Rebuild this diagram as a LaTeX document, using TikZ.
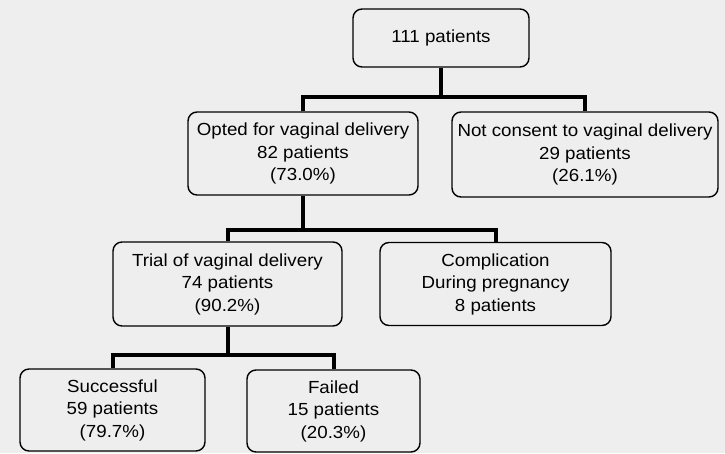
\documentclass[tikz,border=0pt]{standalone}
\usepackage{fontspec}
\setmainfont{Liberation Sans}[FakeStretch=1.07]
\definecolor{bg}{HTML}{EEEEEE}
\begin{document}
\begin{tikzpicture}[x=1pt,y=-1pt,
  box/.style={draw=black, line width=1.4pt, rounded corners=9pt, fill=bg,
    align=center, inner sep=0pt, font=\fontsize{17.5}{22.5}\selectfont},
  conn/.style={line width=4pt, draw=black}]
\fill[bg] (0,0) rectangle (725,453);
\useasboundingbox (0,0) rectangle (725,453);

\node[box, minimum width=176pt, minimum height=58pt] (top) at (441,38) {111 patients};
\node[box, minimum width=230pt, minimum height=83pt] (opted) at (303,153.5)
  {Opted for vaginal delivery\\82 patients\\(73.0\%)};
\node[box, minimum width=266pt, minimum height=85pt] (notc) at (585,154.5)
  {Not consent to vaginal delivery\\29 patients\\(26.1\%)};
\node[box, minimum width=229pt, minimum height=84pt] (trial) at (227.5,284)
  {Trial of vaginal delivery\\74 patients\\(90.2\%)};
\node[box, minimum width=231pt, minimum height=83pt] (comp) at (495.5,284)
  {Complication\\During pregnancy\\8 patients};
\node[box, minimum width=185pt, minimum height=82pt] (succ) at (112.5,410)
  {Successful\\59 patients\\(79.7\%)};
\node[box, minimum width=173pt, minimum height=82pt] (fail) at (333.5,411)
  {Failed\\15 patients\\(20.3\%)};

\coordinate (b1) at (441,97);
\coordinate (b2) at (303,230);
\coordinate (b3) at (227.5,355);

\draw[conn] (top.south) -- (b1);
\draw[conn] (opted.north) |- (b1) -| (notc.north);
\draw[conn] (opted.south) -- (b2);
\draw[conn] (trial.north) |- (b2) -| (comp.north);
\draw[conn] (trial.south) -- (b3);
\draw[conn] (succ.north) |- (b3) -| (fail.north);
\end{tikzpicture}
\end{document}
